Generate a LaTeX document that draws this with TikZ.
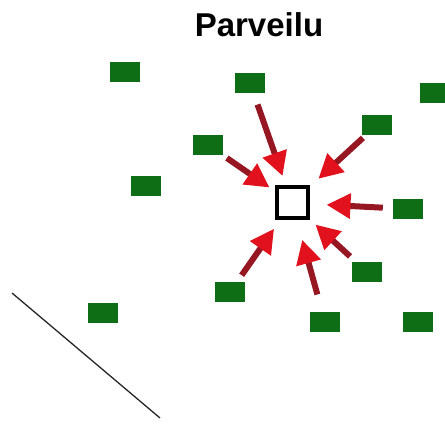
\documentclass[tikz,border=0pt]{standalone}
\usepackage{fontspec}
\setmainfont{Liberation Sans}
\usetikzlibrary{arrows.meta,positioning}
\definecolor{boidgreen}{RGB}{14,110,22}
\definecolor{shaftred}{RGB}{150,22,34}
\definecolor{tipred}{RGB}{225,18,30}

\begin{document}
\begin{tikzpicture}[x=1pt,y=-1pt,
    boid/.style={rectangle, fill=boidgreen, minimum width=30pt, minimum height=20pt, inner sep=0pt},
    target/.style={rectangle, draw=black, line width=4pt, fill=white, minimum size=31pt, inner sep=0pt},
    pull/.style={draw=shaftred, line width=6pt, -{Triangle[length=24pt,width=24pt,color=tipred]}}]
    \useasboundingbox (0,0) rectangle (445,425);

    % Otsikko
    \node[anchor=base, font=\bfseries\fontsize{33}{33}\selectfont] (title) at (259,37) {Parveilu};

    % Kohde
    \node[target] (sq) at (292,203) {};

    % Yksilot
    \node[boid] (b1) at (125,72) {};
    \node[boid] (b2) at (250,83) {};
    \node[boid] (b3) at (435,93) {};
    \node[boid] (b4) at (377,125) {};
    \node[boid] (b5) at (208,145) {};
    \node[boid] (b6) at (146,186) {};
    \node[boid] (b7) at (408,209) {};
    \node[boid] (b8) at (367,272) {};
    \node[boid] (b9) at (230,292) {};
    \node[boid] (b10) at (325,322) {};
    \node[boid] (b11) at (418,322) {};
    \node[boid] (b12) at (103,313) {};

    % Nuolet kohti keskusta
    \draw[pull, shorten <=12pt, shorten >=10pt] (b2) -- (sq);
    \draw[pull, shorten <=5pt, shorten >=6pt] (b5) -- (sq);
    \draw[pull, shorten <=4pt, shorten >=12pt] (b4) -- (sq);
    \draw[pull, shorten <=10pt, shorten >=17pt] (b7) -- (sq);
    \draw[pull, shorten <=8pt, shorten >=8pt] (b8) -- (sq);
    \draw[pull, shorten <=18pt, shorten >=20pt] (b10) -- (sq);
    \draw[pull, shorten <=8pt, shorten >=10pt] (b9) -- (sq);

    % Reuna
    \coordinate (edgeA) at (12,293);
    \coordinate (edgeB) at (160,418);
    \draw[line width=1.3pt, black!85] (edgeA) -- (edgeB);
\end{tikzpicture}
\end{document}
